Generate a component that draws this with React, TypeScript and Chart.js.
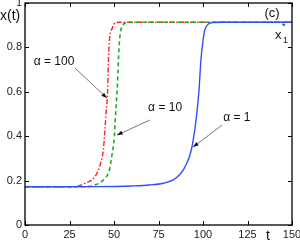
import React, { useEffect, useRef } from "react";
import { Chart, registerables } from "chart.js";

Chart.register(...registerables);

const tRed = [0, 27, 33.7, 39.3, 42.5, 44, 44.9, 45.6, 46.4, 46.8, 47.4, 49, 50.6, 53, 150];
const vRed = [0.172, 0.172, 0.188, 0.218, 0.278, 0.338, 0.428, 0.51, 0.6, 0.72, 0.826, 0.886, 0.91, 0.913, 0.913];

const tGreen = [0, 32, 39.3, 44, 47.4, 48.7, 50.2, 50.9, 52, 52.8, 53.7, 56.2, 58, 150];
const vGreen = [0.172, 0.172, 0.18, 0.203, 0.248, 0.308, 0.398, 0.5, 0.645, 0.796, 0.871, 0.909, 0.913, 0.913];

const tBlue = [0, 40, 60, 70, 77.7, 83.3, 86.7, 88.9, 92.3, 94, 96.1, 97.7, 98.8, 100, 101, 103, 106, 110, 150];
const vBlue = [0.172, 0.173, 0.176, 0.18, 0.188, 0.203, 0.225, 0.248, 0.306, 0.36, 0.473, 0.6, 0.74, 0.83, 0.878, 0.905, 0.912, 0.913, 0.913];

const xTicks = [0, 25, 50, 75, 100, 125, 150];
const yTicks = [0, 0.2, 0.4, 0.6, 0.8, 1];

// annotations: [label, textT, textV, fromT, fromV, tipT, tipV]
const annotations: [string, number, number, number, number, number, number][] = [
  ["α = 100", 16.3, 0.734, 28.1, 0.707, 46, 0.572],
  ["α = 10", 78.7, 0.527, 70.2, 0.473, 51.7, 0.405],
  ["α = 1", 119, 0.482, 110.7, 0.45, 94.4, 0.351],
];

const FONT = "'Liberation Sans', Arial, sans-serif";

const pts = (t: number[], v: number[]) => t.map((x, i) => ({ x, y: v[i] }));

const decor = {
  id: "decor",
  afterDatasetsDraw(chart: any) {
    const { ctx, chartArea: a, scales } = chart;
    const xs = scales.x, ys = scales.y;
    ctx.save();
    ctx.strokeStyle = "#000";
    ctx.lineWidth = 1.3;
    ctx.strokeRect(a.left, a.top, a.right - a.left, a.bottom - a.top);
    ctx.lineWidth = 1;
    const L = 4;
    xTicks.forEach((t) => {
      const px = Math.round(xs.getPixelForValue(t)) + 0.5;
      ctx.beginPath();
      ctx.moveTo(px, a.bottom); ctx.lineTo(px, a.bottom - L);
      ctx.moveTo(px, a.top); ctx.lineTo(px, a.top + L);
      ctx.stroke();
    });
    yTicks.forEach((v) => {
      const py = Math.round(ys.getPixelForValue(v)) + 0.5;
      ctx.beginPath();
      ctx.moveTo(a.left, py); ctx.lineTo(a.left + L, py);
      ctx.moveTo(a.right, py); ctx.lineTo(a.right - L, py);
      ctx.stroke();
    });
    ctx.fillStyle = "#111";
    ctx.font = `12px ${FONT}`;
    ctx.textAlign = "center";
    ctx.textBaseline = "middle";
    annotations.forEach(([label, tx, tv, ft, fv, at, av]) => {
      ctx.fillStyle = "#111";
      ctx.fillText(label, xs.getPixelForValue(tx), ys.getPixelForValue(tv));
      const x1 = xs.getPixelForValue(ft), y1 = ys.getPixelForValue(fv);
      const x2 = xs.getPixelForValue(at), y2 = ys.getPixelForValue(av);
      ctx.strokeStyle = "#555";
      ctx.lineWidth = 0.8;
      ctx.beginPath();
      ctx.moveTo(x1, y1); ctx.lineTo(x2, y2);
      ctx.stroke();
      const ang = Math.atan2(y2 - y1, x2 - x1);
      const h = 6, w = 0.35;
      ctx.beginPath();
      ctx.moveTo(x2, y2);
      ctx.lineTo(x2 - h * Math.cos(ang - w), y2 - h * Math.sin(ang - w));
      ctx.lineTo(x2 - h * Math.cos(ang + w), y2 - h * Math.sin(ang + w));
      ctx.closePath();
      ctx.fill();
    });
    ctx.font = `13px ${FONT}`;
    ctx.fillText("(c)", xs.getPixelForValue(138.8), ys.getPixelForValue(0.955));
    ctx.textAlign = "left";
    ctx.fillText("x", 275, 35);
    ctx.font = `9px ${FONT}`;
    ctx.fillText("1", 283, 41);
    ctx.fillText("*", 282, 27);
    ctx.font = `14px ${FONT}`;
    ctx.fillText("x(t)", 0, 16);
    ctx.fillText("t", 266, 236);
    ctx.restore();
  },
};

export default function App() {
  const ref = useRef<HTMLCanvasElement>(null);
  useEffect(() => {
    document.body.style.margin = "0";
    const chart = new Chart(ref.current!, {
      type: "line",
      data: {
        datasets: [
          {
            data: pts(tBlue, vBlue),
            borderColor: "#2f4fff",
            borderWidth: 1.4,
            pointRadius: 0,
            cubicInterpolationMode: "monotone",
          },
          {
            data: pts(tGreen, vGreen),
            borderColor: "#22aa22",
            borderWidth: 1.6,
            borderDash: [4, 3],
            pointRadius: 0,
            cubicInterpolationMode: "monotone",
          },
          {
            data: pts(tRed, vRed),
            borderColor: "#ff2020",
            borderWidth: 1.4,
            borderDash: [5, 2, 1.5, 2],
            pointRadius: 0,
            cubicInterpolationMode: "monotone",
          },
        ],
      },
      options: {
        animation: false,
        responsive: false,
        layout: { padding: { top: 3, right: 8, left: 0, bottom: 0 } },
        plugins: { legend: { display: false }, tooltip: { enabled: false } },
        scales: {
          x: {
            type: "linear",
            min: 0,
            max: 150,
            grid: { display: false, drawTicks: false },
            border: { display: false },
            afterFit: (s: any) => {
              s.height = 18;
              s.paddingLeft = 0; s.paddingRight = 0; s.paddingTop = 0; s.paddingBottom = 0;
            },
            afterBuildTicks: (s: any) => { s.ticks = xTicks.map((v) => ({ value: v })); },
            ticks: {
              padding: 3,
              color: "#222",
              font: { family: FONT, size: 11 },
              maxRotation: 0,
              callback: (v: any) => String(v),
            },
          },
          y: {
            min: 0,
            max: 1,
            grid: { display: false, drawTicks: false },
            border: { display: false },
            afterFit: (s: any) => {
              s.width = 25;
              s.paddingLeft = 0; s.paddingRight = 0; s.paddingTop = 0; s.paddingBottom = 0;
            },
            afterBuildTicks: (s: any) => { s.ticks = yTicks.map((v) => ({ value: v })); },
            ticks: {
              padding: 3,
              color: "#222",
              font: { family: FONT, size: 11 },
              callback: (v: any) => String(Math.round(v * 10) / 10),
            },
          },
        },
      },
      plugins: [decor],
    } as any);
    return () => chart.destroy();
  }, []);
  return (
    <div style={{ width: 300, height: 243 }}>
      <canvas ref={ref} width={300} height={243} />
    </div>
  );
}
